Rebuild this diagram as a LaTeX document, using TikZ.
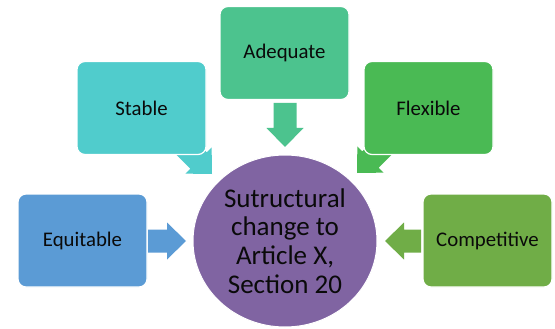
\documentclass[tikz,border=0pt]{standalone}
\usepackage{fontspec}
\setmainfont{Carlito}
\usetikzlibrary{shapes.geometric}
\definecolor{cStable}{RGB}{80,204,204}
\definecolor{cAdequate}{RGB}{76,195,142}
\definecolor{cFlexible}{RGB}{74,186,84}
\definecolor{cEquitable}{RGB}{91,155,213}
\definecolor{cCompetitive}{RGB}{112,173,71}
\definecolor{cCenter}{RGB}{128,100,162}
\definecolor{cText}{RGB}{10,10,10}
\newcommand{\blockarrow}[4]{%
  \fill[#1, shift={#2}, rotate=#3] (0,0) -- (-19,18.5) -- (-19,11.5) -- (-#4,11.5)
    -- (-#4,-11.5) -- (-19,-11.5) -- (-19,-18.5) -- cycle;}
\tikzset{
  box/.style={rectangle, rounded corners=8pt, minimum width=129pt, minimum height=93pt,
    inner sep=0pt, draw=white, line width=1.2pt, text=cText,
    font=\fontsize{20.8}{25}\selectfont},
  hub/.style={ellipse, minimum width=184pt, minimum height=172pt, inner sep=0pt,
    draw=white, line width=1pt, fill=cCenter, text=cText, align=center,
    font=\fontsize{27}{28.7}\selectfont}
}
\begin{document}
\begin{tikzpicture}[x=1pt,y=-1pt]
\useasboundingbox[fill=white] (0,0) rectangle (555,329);
% block arrows (drawn behind boxes)
\blockarrow{cStable}{(212,174)}{-45}{44}
\blockarrow{cFlexible}{(357,173)}{-135}{44}
\blockarrow{cAdequate}{(285,147)}{-90}{44}
\blockarrow{cEquitable}{(186,241)}{0}{38}
\blockarrow{cCompetitive}{(385,241)}{180}{36}
% boxes
\node[box, fill=cStable] (stable) at (141.5,108) {Stable};
\node[box, fill=cAdequate] (adequate) at (284.5,53) {Adequate};
\node[box, fill=cFlexible] (flexible) at (428.5,108) {Flexible};
\node[box, fill=cEquitable] (equitable) at (82.5,240.5) {Equitable};
\node[box, fill=cCompetitive] (competitive) at (487.5,240.5) {Competitive};
% hub
\node[hub] (hub) at (285,241) {Sutructural\\change to\\Article X,\\Section 20};
\end{tikzpicture}
\end{document}
